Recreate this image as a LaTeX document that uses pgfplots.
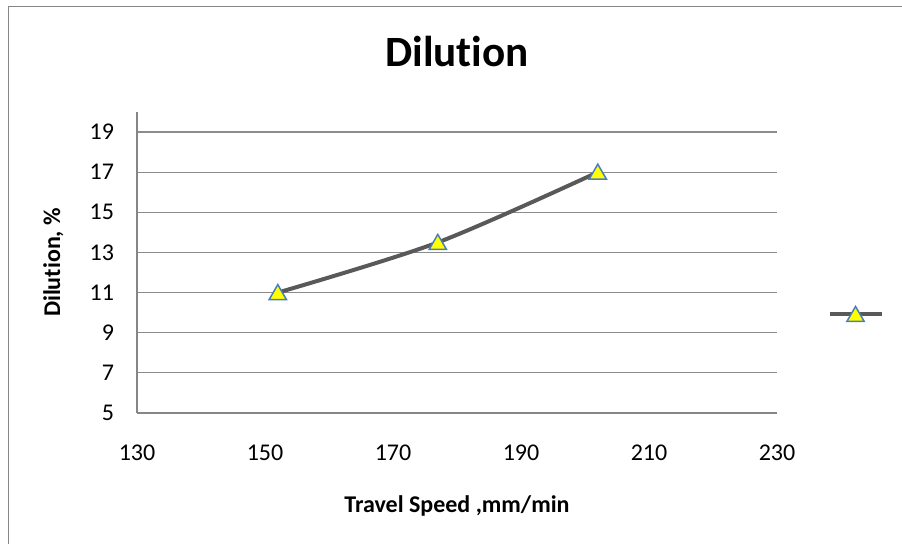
\documentclass[border=0pt]{standalone}
\usepackage{pgfplots}
\pgfplotsset{compat=1.18}
\usepackage{fontspec}
\setmainfont{Carlito}[Ligatures=NoCommon]
\definecolor{axgray}{RGB}{134,134,134}
\definecolor{gridgray}{RGB}{140,140,140}
\definecolor{linegray}{RGB}{89,89,89}
\definecolor{mkblue}{RGB}{74,126,187}
\definecolor{mkyellow}{RGB}{255,255,0}
\begin{document}
\begin{tikzpicture}[x=1pt,y=1pt]
\useasboundingbox (0,0) rectangle (451,-272);
\begin{scope}
\clip (0,0) rectangle (451,-272);
\draw[axgray, line width=0.9pt] (4.25,-3.25) rectangle (470,-290);
\end{scope}
\begin{axis}[
 at={(68.5pt,-206.5pt)}, anchor=south west,
 scale only axis, width=320pt, height=150.5pt,
 xmin=130, xmax=230, ymin=5, ymax=20,
 xtick={130,150,...,230}, ytick={5,7,...,19},
 axis x line=bottom, axis y line=left,
 axis line style={-, draw=axgray, line width=0.75pt},
 major tick length=0pt,
 ymajorgrids, grid style={draw=gridgray, line width=0.6pt},
 ticklabel style={font=\fontsize{12}{14}\selectfont},
 /pgf/number format/assume math mode=true,
 xticklabel style={yshift=-12.5pt},
 yticklabel style={xshift=-8pt},
 xlabel={Travel Speed ,mm/min}, ylabel={Dilution, \%},
 label style={font=\bfseries\fontsize{12}{14}\selectfont},
 xlabel style={at={(axis description cs:0.5,-0.329)}, anchor=base},
 ylabel style={at={(axis description cs:-0.1203,0.5)}, anchor=base},
 title={Dilution},
 title style={font=\bfseries\fontsize{21.6}{26}\selectfont, at={(axis description cs:0.5,1.151)}, anchor=base, yshift=-6pt},
 legend style={at={(axis description cs:1.129,0.329)}, anchor=center, draw=none, fill=none},
 legend image code/.code={\draw[mark repeat=2,mark phase=2] plot coordinates {(0pt,0pt) (13pt,0pt) (26pt,0pt)};},
]
\addplot[linegray, line width=2pt, smooth, tension=0.5, mark=triangle*, mark size=5pt,
  mark options={fill=mkyellow, draw=mkblue, line width=0.75pt, solid, yshift=-1pt}]
  coordinates {(152,11) (177,13.5) (202,17)};
\addlegendentry{}
\end{axis}
\end{tikzpicture}
\end{document}
